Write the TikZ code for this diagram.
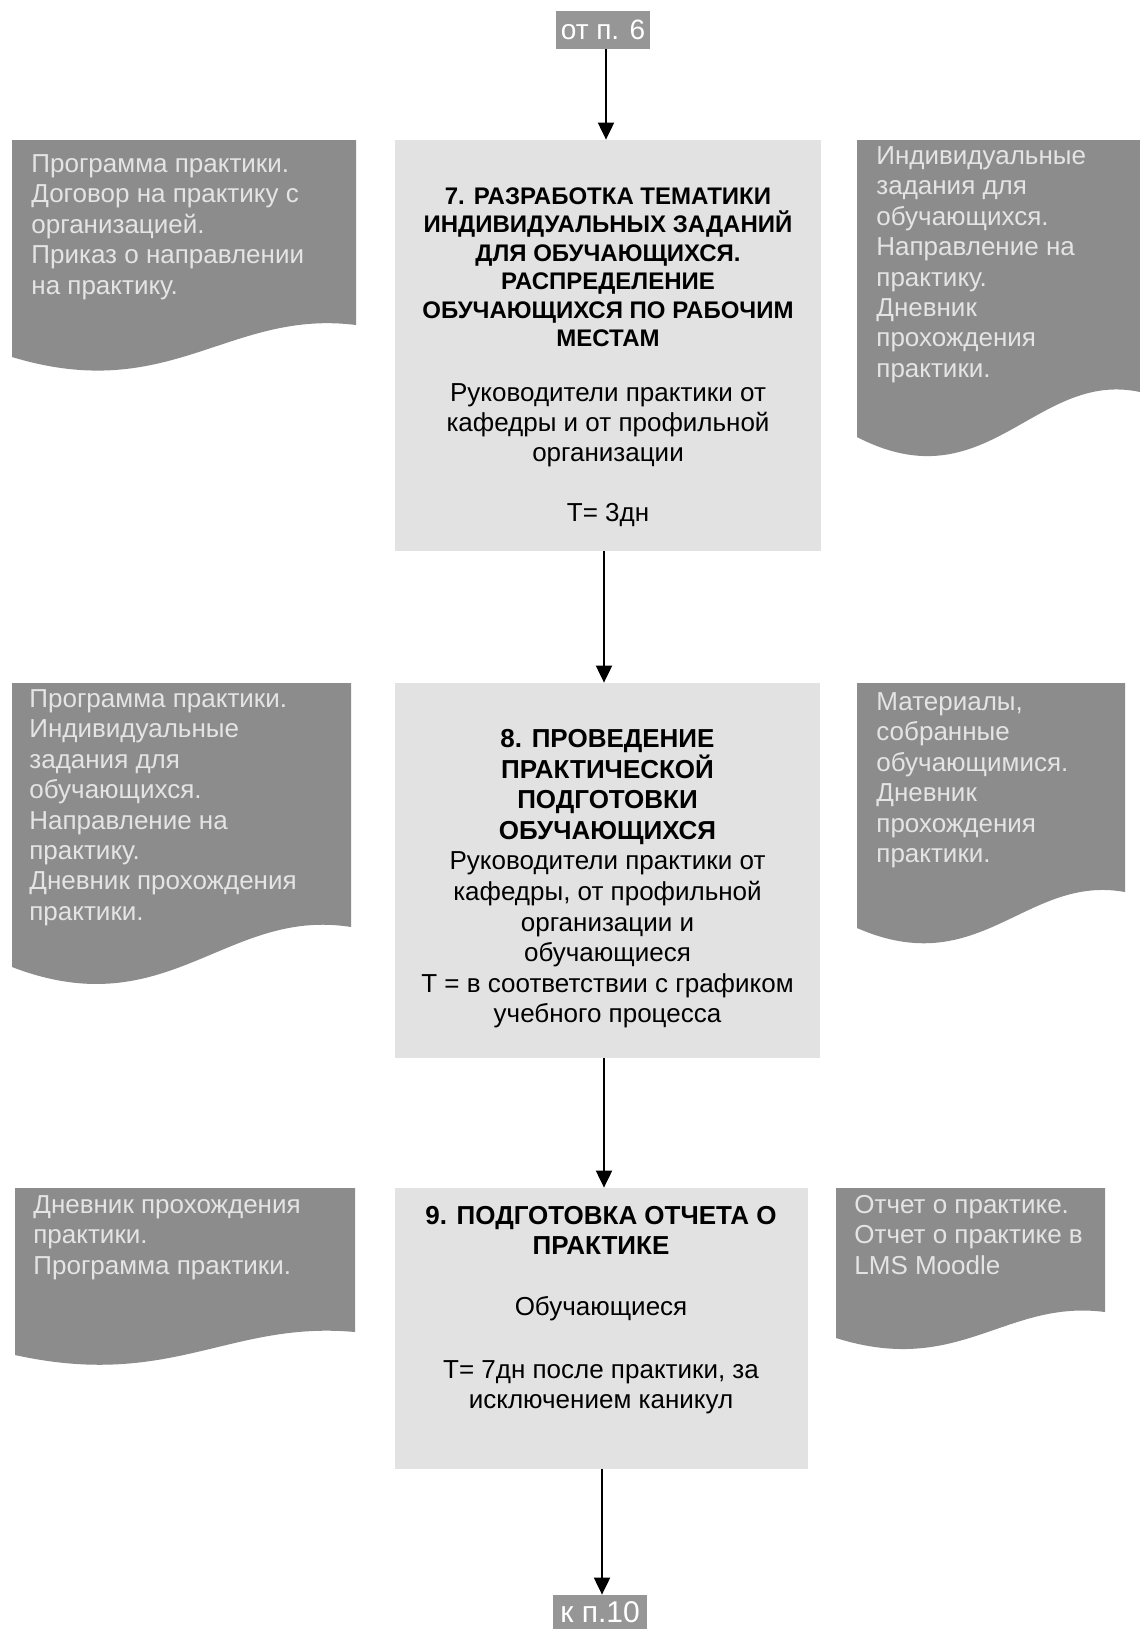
\documentclass[tikz,border=0pt]{standalone}
\usepackage{fontspec}
\setmainfont{Liberation Sans}
\usetikzlibrary{arrows.meta}
\definecolor{docgray}{RGB}{140,140,140}
\definecolor{doctext}{RGB}{228,228,228}
\definecolor{boxgray}{RGB}{226,226,226}
\definecolor{tabgray}{RGB}{150,150,150}
\newcommand\docfill[5]{%
  \fill[docgray] (#1,#3) -- (#2,#3) -- (#2,#4)
    .. controls ({#2-0.37*(#2-#1)},{#4-0.5*#5}) and ({#1+0.46*(#2-#1)},{#4+2.5*#5}) ..
    (#1,{#4+#5}) -- cycle;}
\tikzset{
  cbox/.style={fill=boxgray, draw=none, inner sep=0pt},
  tab/.style={fill=tabgray, draw=none, inner sep=0pt, text=white,
    font=\fontsize{14}{16}\selectfont},
  boxtext/.style={anchor=north, inner sep=0pt, align=center, text=black,
    font=\fontsize{13}{15}\selectfont},
  titletext/.style={anchor=north, inner sep=0pt, align=center, text=black,
    font=\fontsize{12}{14.2}\selectfont\bfseries},
  doctxt/.style={anchor=north west, inner sep=0pt, align=left, text=doctext,
    font=\fontsize{13}{15.2}\selectfont},
  arr/.style={line width=1pt, -{Triangle[width=8pt,length=8.5pt]}}
}
\begin{document}
\begin{tikzpicture}[x=0.5pt,y=-0.5pt]
\useasboundingbox[fill=white] (0,0) rectangle (1140,1629);

% documents
\docfill{12}{356}{140}{325}{32}
\docfill{857}{1140}{140}{392}{45}
\docfill{12}{351}{683}{927}{40}
\docfill{857}{1125}{683}{892}{36}
\docfill{15}{355}{1188}{1332}{23}
\docfill{836}{1105}{1188}{1312}{26}

\node[doctxt] (dl1) at (31,150) {\rule{0pt}{11pt}Программа практики.\\Договор на практику с\\организацией.\\Приказ о направлении\\на практику.};
\node[doctxt] (dr1) at (876,142) {\rule{0pt}{11pt}Индивидуальные\\задания для\\обучающихся.\\Направление на\\практику.\\Дневник\\прохождения\\практики.};
\node[doctxt] (dl2) at (29,685) {\rule{0pt}{11pt}Программа практики.\\Индивидуальные\\задания для\\обучающихся.\\Направление на\\практику.\\Дневник прохождения\\практики.};
\node[doctxt] (dr2) at (876,688) {\rule{0pt}{11pt}Материалы,\\собранные\\обучающимися.\\Дневник\\прохождения\\практики.};
\node[doctxt] (dl3) at (33,1191) {\rule{0pt}{11pt}Дневник прохождения\\практики.\\Программа практики.};
\node[doctxt] (dr3) at (854,1191) {\rule{0pt}{11pt}Отчет о практике.\\Отчет о практике в\\LMS Moodle};

% terminals
\node[tab, minimum width=47pt, minimum height=19pt] (top) at (603,30) {от п. 6};
\node[tab, minimum width=47pt, minimum height=17pt, font=\fontsize{15}{17}\selectfont] (bot) at (600,1612) {к п.10};

% process boxes
\node[cbox, minimum width=213pt, minimum height=205.5pt] (b7) at (608,345.5) {};
\node[cbox, minimum width=212.5pt, minimum height=187.5pt] (b8) at (607.5,870.5) {};
\node[cbox, minimum width=206.5pt, minimum height=140.5pt] (b9) at (601.5,1328.5) {};

\node[titletext] (t7a) at (608,182) {\rule{0pt}{11pt}7. РАЗРАБОТКА ТЕМАТИКИ\\ИНДИВИДУАЛЬНЫХ ЗАДАНИЙ\\ДЛЯ ОБУЧАЮЩИХСЯ.\\РАСПРЕДЕЛЕНИЕ\\ОБУЧАЮЩИХСЯ ПО РАБОЧИМ\\МЕСТАМ};
\node[boxtext] (t7b) at (608,379) {\rule{0pt}{11pt}Руководители практики от\\кафедры и от профильной\\организации\\[15pt]Т= 3дн};

\node[boxtext, font=\fontsize{13}{15.3}\selectfont] (t8) at (607.5,725) {\rule{0pt}{11pt}\textbf{8. ПРОВЕДЕНИЕ}\\\textbf{ПРАКТИЧЕСКОЙ}\\\textbf{ПОДГОТОВКИ}\\\textbf{ОБУЧАЮЩИХСЯ}\\Руководители практики от\\кафедры, от профильной\\организации и\\обучающиеся\\Т = в соответствии с графиком\\учебного процесса};

\node[boxtext] (t9) at (601,1202) {\rule{0pt}{11pt}\textbf{9. ПОДГОТОВКА ОТЧЕТА О}\\\textbf{ПРАКТИКЕ}\\[15.5pt]Обучающиеся\\[16.5pt]Т= 7дн после практики, за\\исключением каникул};

% connectors
\coordinate (xa) at (606,0);
\coordinate (xb) at (604,0);
\coordinate (xc) at (602,0);
\draw[arr] (top.south -| xa) -- (b7.north -| xa);
\draw[arr] (b7.south -| xb) -- (b8.north -| xb);
\draw[arr] (b8.south -| xb) -- (b9.north -| xb);
\draw[arr] (b9.south -| xc) -- (bot.north -| xc);
\end{tikzpicture}
\end{document}
